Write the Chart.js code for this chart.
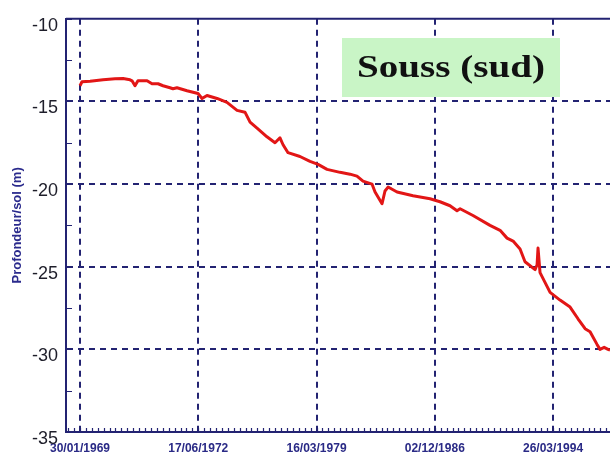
<!DOCTYPE html>
<html>
<head>
<meta charset="utf-8">
<script src="https://cdn.jsdelivr.net/npm/chart.js@4"></script>
<style>
  html, body { margin: 0; padding: 0; background: #fff; overflow: hidden; }
  #wrap { width: 624px; height: 454px; }
</style>
</head>
<body>
<div id="wrap"><canvas id="piezo" width="624" height="454"></canvas></div>
<script>
// ---------- data ----------
// x = observation number along the record, y = depth below ground (m)
const obsIndex = [
  0, 1.7, 8.5, 19.5, 29.6, 36.4, 42.3, 44.0, 46.5, 49.0, 56.7, 60.9, 66.0, 70.2,
  76.1, 78.6, 82.0, 90.5, 99.8, 103.2, 107.4, 115.9, 124.3, 132.8, 139.5, 143.8,
  149.7, 158.1, 164.9, 169.1, 171.7, 175.9, 186.0, 194.5, 201.3, 208.9, 219.9,
  228.3, 234.2, 239.3, 246.9, 249.5, 255.4, 257.9, 260.5, 268.1, 281.6, 296.0,
  304.4, 312.9, 318.8, 321.4, 332.3, 346.7, 355.2, 361.1, 366.2, 372.1, 376.3,
  384.8, 386.5, 387.3, 389.0, 393.2, 397.5, 405.9, 414.4, 421.1, 427.1, 431.3,
  437.2, 439.7, 443.2, 446.5, 448.2
];
const depthM = [
  -14.05, -13.81, -13.78, -13.69, -13.63, -13.61, -13.69, -13.75, -14.05, -13.75,
  -13.75, -13.93, -13.93, -14.05, -14.17, -14.23, -14.17, -14.35, -14.52, -14.82,
  -14.64, -14.82, -15.06, -15.54, -15.65, -16.25, -16.61, -17.14, -17.50, -17.20,
  -17.62, -18.10, -18.33, -18.63, -18.81, -19.11, -19.29, -19.40, -19.52, -19.82,
  -20.00, -20.48, -21.19, -20.42, -20.18, -20.48, -20.71, -20.89, -21.07, -21.31,
  -21.61, -21.49, -21.90, -22.50, -22.80, -23.27, -23.45, -23.93, -24.70, -25.18,
  -24.88, -23.87, -25.36, -25.95, -26.55, -27.02, -27.44, -28.15, -28.75, -28.93,
  -29.70, -30.00, -29.88, -30.00, -30.05
];
const xTickPos = [0, 100, 200, 300, 400];
const xTickLabels = ["30/01/1969", "17/06/1972", "16/03/1979", "02/12/1986", "26/03/1994"];
const yTicks = [-35, -30, -25, -20, -15, -10];

const NAVY = "#232372";

// minor ticks, top frame line and the "Souss (sud)" label
const decor = {
  id: "decor",
  beforeDatasetsDraw(chart) {
    const {ctx, chartArea: a, scales: {x, y}} = chart;
    ctx.save();
    ctx.strokeStyle = NAVY;
    ctx.lineWidth = 1.2;
    ctx.beginPath();
    for (let v = -10; v <= 460; v += 5) {
      const px = Math.round(x.getPixelForValue(v)) + 0.5;
      if (px < a.left + 2) continue;
      ctx.moveTo(px, a.bottom);
      ctx.lineTo(px, a.bottom - 4);
    }
    for (let v = -35; v <= -10; v += 2.5) {
      const py = Math.round(y.getPixelForValue(v)) + 0.5;
      ctx.moveTo(a.left, py);
      ctx.lineTo(a.left + 6, py);
    }
    ctx.stroke();
    ctx.lineWidth = 2;
    ctx.beginPath();
    ctx.moveTo(a.left, a.top);
    ctx.lineTo(a.right, a.top);
    ctx.stroke();
    ctx.restore();
  },
  afterDraw(chart) {
    const ctx = chart.ctx;
    ctx.save();
    ctx.fillStyle = "#c9f5c6";
    ctx.fillRect(342, 38, 218, 59);
    ctx.font = 'bold 32px "Liberation Serif", "DejaVu Serif", serif';
    ctx.fillStyle = "#111";
    ctx.textBaseline = "middle";
    const txt = "Souss (sud)";
    const w = ctx.measureText(txt).width;
    const sx = 188 / w;
    ctx.translate(451, 69);
    ctx.scale(sx, 1);
    ctx.textAlign = "center";
    ctx.fillText(txt, 0, 0);
    ctx.restore();
  }
};

const chart = new Chart(document.getElementById("piezo"), {
  type: "line",
  data: {
    datasets: [{
      data: obsIndex.map((v, i) => ({x: v, y: depthM[i]})),
      borderColor: "#e21616",
      borderWidth: 3,
      pointRadius: 0,
      tension: 0,
      borderJoinStyle: "round",
      fill: false
    }]
  },
  options: {
    responsive: false,
    animation: false,
    layout: {padding: {top: 12, left: 0, right: 0, bottom: 0}},
    plugins: {legend: {display: false}, tooltip: {enabled: false}},
    scales: {
      x: {
        type: "linear",
        min: -11.84,
        max: 460,
        afterBuildTicks: (s) => { s.ticks = xTickPos.map(v => ({value: v})); },
        afterFit: (s) => { s.height = 22; },
        grid: {color: NAVY, lineWidth: 2, drawTicks: false},
        border: {display: true, color: NAVY, width: 2, dash: [6, 5]},
        ticks: {
          autoSkip: false,
          maxRotation: 0,
          padding: 9,
          color: "#2a2a86",
          font: {family: "Arial, 'Liberation Sans', sans-serif", size: 12, weight: "bold"},
          callback: (v) => xTickLabels[xTickPos.indexOf(v)]
        }
      },
      y: {
        min: -35,
        max: -10,
        afterBuildTicks: (s) => { s.ticks = yTicks.map(v => ({value: v})); },
        afterFit: (s) => { s.width = 66; },
        grid: {
          color: (c) => (c.tick && (c.tick.value === -10 || c.tick.value === -35)) ? "rgba(0,0,0,0)" : NAVY,
          lineWidth: 2,
          drawTicks: false
        },
        border: {display: true, color: NAVY, width: 2, dash: [6, 5]},
        ticks: {
          padding: 8,
          labelOffset: 7,
          color: "#1e1e2a",
          font: {family: "Arial, 'Liberation Sans', sans-serif", size: 18}
        },
        title: {
          display: true,
          text: "Profondeur/sol (m)",
          color: "#2a2a8c",
          font: {family: "Arial, 'Liberation Sans', sans-serif", size: 13, weight: "bold"},
          padding: {top: 10, bottom: 0}
        }
      }
    }
  },
  plugins: [decor]
});
</script>
</body>
</html>
